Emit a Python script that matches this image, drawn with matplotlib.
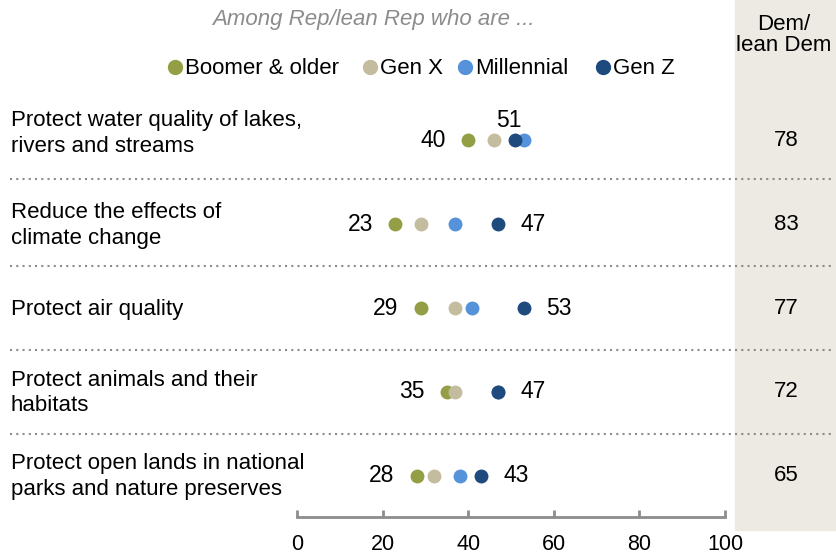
import matplotlib.pyplot as plt
from matplotlib.lines import Line2D
from matplotlib.patches import Rectangle

plt.rcParams['font.family'] = ['Liberation Sans', 'DejaVu Sans']

issues = ['Protect water quality of lakes,\nrivers and streams',
          'Reduce the effects of\nclimate change',
          'Protect air quality',
          'Protect animals and their\nhabitats',
          'Protect open lands in national\nparks and nature preserves']
boomer = [40, 23, 29, 35, 28]
genx = [46, 29, 37, 37, 32]
millennial = [53, 37, 41, 47, 38]
genz = [51, 47, 53, 47, 43]
dem = [78, 83, 77, 72, 65]

groups = ['Boomer & older', 'Gen X', 'Millennial', 'Gen Z']
colors = ['#949f45', '#c4bc9e', '#5592d9', '#1f4a7e']

W, H = 837, 556
fig = plt.figure(figsize=(W/100, H/100), dpi=100)
ax = fig.add_axes([297/W, 39/H, 428/W, 422/H])

rows = list(range(len(issues)))
for vals, c in zip([boomer, genx, millennial, genz], colors):
    ax.scatter(vals, rows, s=100, color=c, zorder=3, linewidths=0)

ax.set_xlim(0, 100)
ax.set_ylim(4.49, -0.54)
for s in ['top', 'right', 'left']:
    ax.spines[s].set_visible(False)
ax.spines['bottom'].set_color('#8c8c8c')
ax.spines['bottom'].set_linewidth(2)
ax.set_yticks([])
ax.set_xticks([0, 20, 40, 60, 80, 100])
ax.tick_params(axis='x', direction='in', length=5, width=2, color='#8c8c8c',
               labelsize=15.5, pad=12)

def fig_y(i):
    return ax.transData.transform((0, i))[1] / H

# value labels: lowest to the left, Gen Z to the right (above when crowded)
for i in rows:
    ax.text(boomer[i] - 5.3, i, str(boomer[i]), ha='right', va='center', fontsize=16.5)
    if i == 0:
        ax.text(genz[i] - 1.5, i - 0.24, str(genz[i]), ha='center', va='center', fontsize=16.5)
    else:
        ax.text(genz[i] + 5.3, i, str(genz[i]), ha='left', va='center', fontsize=16.5)
    fig.text(786/W, fig_y(i), str(dem[i]), ha='center', va='center', fontsize=16)
    shift = 7 if i == 0 else -1
    fig.text(11/W, fig_y(i) + shift/H, issues[i], ha='left', va='center', fontsize=16,
             linespacing=1.3)

# dotted separators
for i in rows[:-1]:
    y = ax.transData.transform((0, i + 0.5))[1] / H
    if i == 0:
        y += 3/H
    fig.add_artist(Line2D([10/W, 835/W], [y, y], color='#8c8c8c',
                          linestyle=(0, (1, 2)), linewidth=1.5, zorder=5))

# Dem column background
fig.add_artist(Rectangle((735/W, 26/H), 102/W, 530/H, color='#edeae3',
                         zorder=0, transform=fig.transFigure))
fig.text(784/W, 521/H, 'Dem/\nlean Dem', ha='center', va='center', fontsize=16,
         linespacing=1.05)

# header and legend
fig.text(373/W, 537/H, 'Among Rep/lean Rep who are ...', ha='center', va='center',
         fontsize=16, style='italic', color='#8c8c8c')
leg_x = [175, 370, 465, 603]
for x, g, c in zip(leg_x, groups, colors):
    fig.add_artist(Line2D([x/W], [489/H], marker='o', markersize=10, color=c,
                          linestyle='none'))
    fig.text((x + 10)/W, 487/H, g, ha='left', va='center', fontsize=16)

plt.savefig('out.png', dpi=100)
